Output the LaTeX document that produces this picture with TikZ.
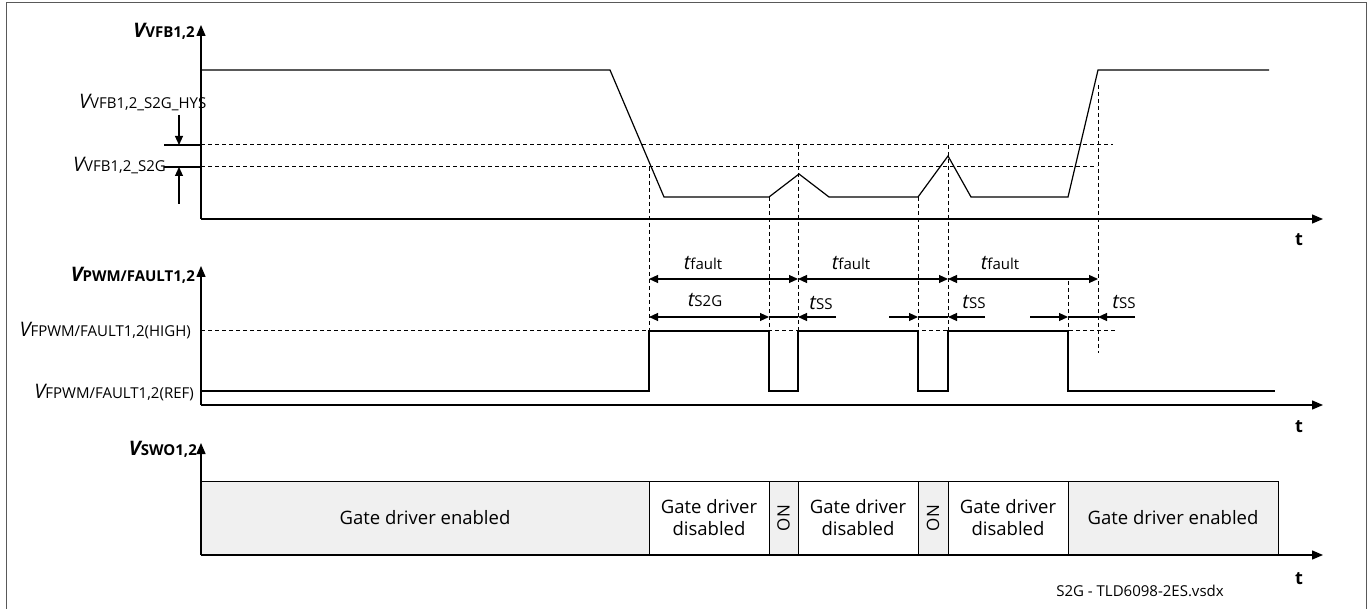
\documentclass[tikz,border=0pt]{standalone}
\usepackage{fontspec}
\setmainfont{Open Sans}
\usetikzlibrary{arrows.meta}
\newcommand{\Vs}[1]{{\fontsize{20}{22}\selectfont\itshape V}{\fontsize{15}{17}\selectfont #1}}
\newcommand{\Vb}[1]{{\fontsize{20}{22}\selectfont\bfseries\itshape V}{\fontsize{15}{17}\selectfont\bfseries #1}}
\newcommand{\ts}[1]{{\fontsize{20}{22}\selectfont\itshape t}{\fontsize{15}{17}\selectfont #1}}
\tikzset{
  wave/.style={line width=1.2pt, line join=miter},
  dsh/.style={line width=1pt, dash pattern=on 4pt off 3pt},
  axis/.style={line width=1.3pt, -{Triangle[length=11pt,width=9pt]}},
  dim/.style={line width=1.1pt, {Triangle[length=9pt,width=8pt]}-{Triangle[length=9pt,width=8pt]}},
  dimr/.style={line width=1.1pt, -{Triangle[length=9pt,width=8pt]}},
  plain/.style={line width=1.1pt},
  box/.style={draw, line width=1pt, minimum height=74pt, inner sep=0pt, align=center, font=\fontsize{18.5}{22}\selectfont},
  lbl/.style={inner sep=0pt},
  tlab/.style={inner sep=0pt, font=\bfseries\fontsize{18}{20}\selectfont},
}
\begin{document}
\begin{tikzpicture}[x=1pt,y=-1pt]
\useasboundingbox (0,0) rectangle (1370,609);
% frame
\draw[black!65, line width=1pt] (6,612) -- (6,3) -- (1366,3) -- (1366,612);

% ---------- top panel ----------
\coordinate (o1) at (201,219);
\coordinate (y1) at (201,25);
\coordinate (x1) at (1323,219);
\draw[axis] (o1) -- (y1);
\draw[axis] (o1) -- (x1);
\node[lbl, anchor=east] (lv1) at (195,31) {\Vb{VFB1,2}};
\node[tlab] (t1) at (1299,240) {t};

% thresholds
\coordinate (h0) at (164,145); \coordinate (h1) at (201,145); \coordinate (h2) at (1113,145);
\coordinate (s0) at (164,167); \coordinate (s1) at (201,167); \coordinate (s2) at (1097,167);
\draw[plain] (h0) -- (h1);
\draw[plain] (s0) -- (s1);
\draw[dsh] (h1) -- (h2);
\draw[dsh] (s1) -- (s2);
\node[lbl, anchor=west] (lhys) at (79,103) {\Vs{VFB1,2\_S2G\_HYS}};
\node[lbl, anchor=east] (ls2g) at (166,166) {\Vs{VFB1,2\_S2G}};
\coordinate (ha) at (179,115); \coordinate (hb) at (179,145);
\coordinate (sa) at (179,204); \coordinate (sb) at (179,167);
\draw[dimr] (ha) -- (hb);
\draw[dimr] (sa) -- (sb);

% waveform
\draw[wave] (201,70) -- (610,70) -- (664,197) -- (769,197) -- (799,174) -- (829,197)
  -- (918,197) -- (948,156) -- (971,197) -- (1068,197) -- (1098,70) -- (1269,70);

% vertical dashed markers
\draw[dsh] (649,167) -- (649,331);
\draw[dsh] (769,197) -- (769,331);
\draw[dsh] (798,145) -- (798,331);
\draw[dsh] (918,197) -- (918,331);
\draw[dsh] (948,145) -- (948,331);
\draw[dsh] (1068,281) -- (1068,331);
\draw[dsh] (1098,85) -- (1098,353);

% ---------- PWM panel ----------
\coordinate (o2) at (201,405);
\coordinate (y2) at (201,266);
\coordinate (x2) at (1323,405);
\draw[axis] (o2) -- (y2);
\draw[axis] (o2) -- (x2);
\node[lbl, anchor=east] (lv2) at (195,275) {\Vb{PWM/FAULT1,2}};
\node[lbl, anchor=east] (lhi) at (191,331) {\Vs{FPWM/FAULT1,2(HIGH)}};
\node[lbl, anchor=east] (lref) at (194,393) {\Vs{FPWM/FAULT1,2(REF)}};
\node[tlab] (t2) at (1299,427) {t};
\coordinate (hi0) at (201,331); \coordinate (hi1) at (1116,331);
\draw[dsh] (hi0) -- (hi1);
\draw[wave] (201,391) -- (649,391) -- (649,331) -- (769,331) -- (769,391) -- (798,391)
  -- (798,331) -- (918,331) -- (918,391) -- (948,391) -- (948,331) -- (1068,331)
  -- (1068,391) -- (1275,391);

% t_fault dimensions
\coordinate (f0) at (649,279); \coordinate (f1) at (798,279);
\coordinate (f2) at (948,279); \coordinate (f3) at (1098,279);
\draw[dim] (f0) -- (f1);
\draw[dim] (f1) -- (f2);
\draw[dim] (f2) -- (f3);
\node[lbl] (tf1) at (703,263) {\ts{fault}};
\node[lbl] (tf2) at (851,263) {\ts{fault}};
\node[lbl] (tf3) at (1000,263) {\ts{fault}};

% t_S2G and t_SS
\coordinate (g0) at (649,317); \coordinate (g1) at (769,317); \coordinate (g2) at (798,317);
\coordinate (g3) at (836,317);
\draw[dim] (g0) -- (g1);
\draw[plain] (g1) -- (g2);
\draw[dimr] (g3) -- (g2);
\node[lbl] (ts2g) at (705,300) {\ts{S2G}};
\node[lbl] (tss1) at (821,303) {\ts{SS}};

\coordinate (k0) at (889,317); \coordinate (k1) at (918,317); \coordinate (k2) at (948,317);
\coordinate (k3) at (985,317);
\draw[dimr] (k0) -- (k1);
\draw[plain] (k1) -- (k2);
\draw[dimr] (k3) -- (k2);
\node[lbl] (tss2) at (974,302) {\ts{SS}};

\coordinate (m0) at (1030,317); \coordinate (m1) at (1068,317); \coordinate (m2) at (1098,317);
\coordinate (m3) at (1135,317);
\draw[dimr] (m0) -- (m1);
\draw[plain] (m1) -- (m2);
\draw[dimr] (m3) -- (m2);
\node[lbl] (tss3) at (1124,302) {\ts{SS}};

% ---------- SWO panel ----------
\coordinate (o3) at (201,555);
\coordinate (y3) at (201,443);
\coordinate (x3) at (1323,555);
\node[box, fill=black!6, minimum width=448pt] (b1) at (425,518) {Gate driver enabled};
\node[box, minimum width=120pt] (b2) at (709,518) {Gate driver\\disabled};
\node[box, fill=black!6, minimum width=29pt] (b3) at (783.5,518) {\rotatebox{90}{\fontsize{17}{19}\selectfont ON}};
\node[box, minimum width=120pt] (b4) at (858,518) {Gate driver\\disabled};
\node[box, fill=black!6, minimum width=30pt] (b5) at (933,518) {\rotatebox{90}{\fontsize{17}{19}\selectfont ON}};
\node[box, minimum width=120pt] (b6) at (1008,518) {Gate driver\\disabled};
\node[box, fill=black!6, minimum width=210pt] (b7) at (1173,518) {Gate driver enabled};
\draw[axis] (o3) -- (y3);
\draw[axis] (o3) -- (x3);
\node[lbl, anchor=east] (lv3) at (197,449) {\Vb{SWO1,2}};
\node[tlab] (t3) at (1299,579) {t};
\node[lbl, font=\fontsize{15}{17}\selectfont] (foot) at (1140,591) {S2G - TLD6098-2ES.vsdx};
\end{tikzpicture}
\end{document}
